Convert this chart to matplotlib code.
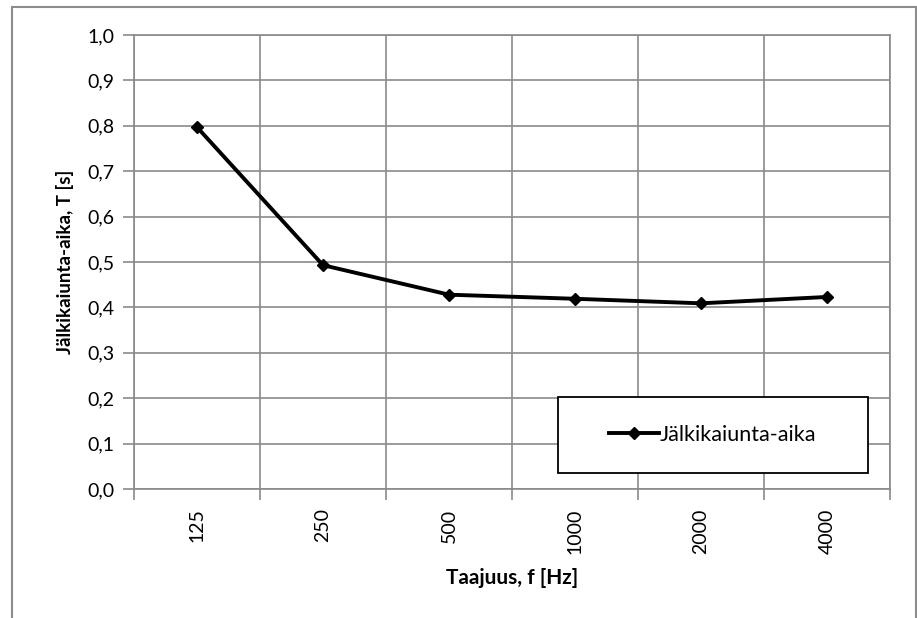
import matplotlib
matplotlib.use("Agg")
import matplotlib.pyplot as plt
from matplotlib.patches import Rectangle
from matplotlib.ticker import FixedLocator

plt.rcParams['font.family'] = ['Lato', 'DejaVu Sans']

categories = ["125", "250", "500", "1000", "2000", "4000"]
values = [0.797, 0.493, 0.428, 0.419, 0.409, 0.423]
series_name = "Jälkikaiunta-aika"
y_ticks = [0.0, 0.1, 0.2, 0.3, 0.4, 0.5, 0.6, 0.7, 0.8, 0.9, 1.0]

W, H = 917, 618
fig = plt.figure(figsize=(W / 100, H / 100), dpi=100)
fig.patch.set_facecolor("white")

# outer chart border
fig.add_artist(Rectangle((12 / W, -0.05), (916 - 12) / W, 1 - 7 / H + 0.05,
                         transform=fig.transFigure, fill=False,
                         edgecolor="#8c8c8c", linewidth=1.5))

L, R, T, B = 134, 890, 35, 489
ax = fig.add_axes([L / W, 1 - B / H, (R - L) / W, (B - T) / H])
grid_c = "#8a8a8a"
x = list(range(len(categories)))
ax.plot(x, values, color="black", linewidth=2.8, marker="D", markersize=6.5,
        label=series_name, zorder=3)

ax.set_xlim(-0.5, len(categories) - 0.5)
ax.set_ylim(0, 1.0)
ax.yaxis.set_major_locator(FixedLocator(y_ticks))
ax.set_yticklabels([f"{t:.1f}".replace(".", ",") for t in y_ticks])
ax.set_xticks(x)
ax.set_xticklabels(categories, rotation=90)
ax.xaxis.set_minor_locator(FixedLocator([i - 0.5 for i in range(len(categories) + 1)]))

ax.grid(True, which="major", axis="y", color=grid_c, linewidth=1.2)
ax.grid(True, which="minor", axis="x", color=grid_c, linewidth=1.2)
ax.set_axisbelow(True)

ax.tick_params(axis="x", which="major", length=0, pad=14, labelsize=14)
ax.tick_params(axis="x", which="minor", length=8, color=grid_c, width=1.2)
ax.tick_params(axis="y", which="major", length=8, color=grid_c, width=1.2,
               pad=6, labelsize=14)
for s in ax.spines.values():
    s.set_color(grid_c)
    s.set_linewidth(1.2)

ax.set_ylabel("Jälkikaiunta-aika, T [s]", fontsize=13.5, fontweight="bold", labelpad=10)
ax.set_xlabel("Taajuus, f [Hz]", fontsize=15, fontweight="bold", labelpad=10)

# legend box (frame drawn separately)
lx0, lx1, ly0, ly1 = 558, 868, 397, 473
ax.add_patch(Rectangle(((lx0 - L) / (R - L), (B - ly1) / (B - T)),
                       (lx1 - lx0) / (R - L), (ly1 - ly0) / (B - T),
                       transform=ax.transAxes, facecolor="white",
                       edgecolor="black", linewidth=1.3, zorder=4))
leg = ax.legend(loc="center",
                bbox_to_anchor=((lx0 + lx1) / 2 / 1.0 - L, 0, 0, 0),
                frameon=False, fontsize=15.5,
                handlelength=2.3, handletextpad=0.05, borderpad=0)
leg.set_bbox_to_anchor((((lx0 + lx1) / 2 - L) / (R - L), (B - (ly0 + ly1) / 2) / (B - T)),
                       transform=ax.transAxes)
leg.set_zorder(5)

fig.savefig("out.png", dpi=100, facecolor="white")
